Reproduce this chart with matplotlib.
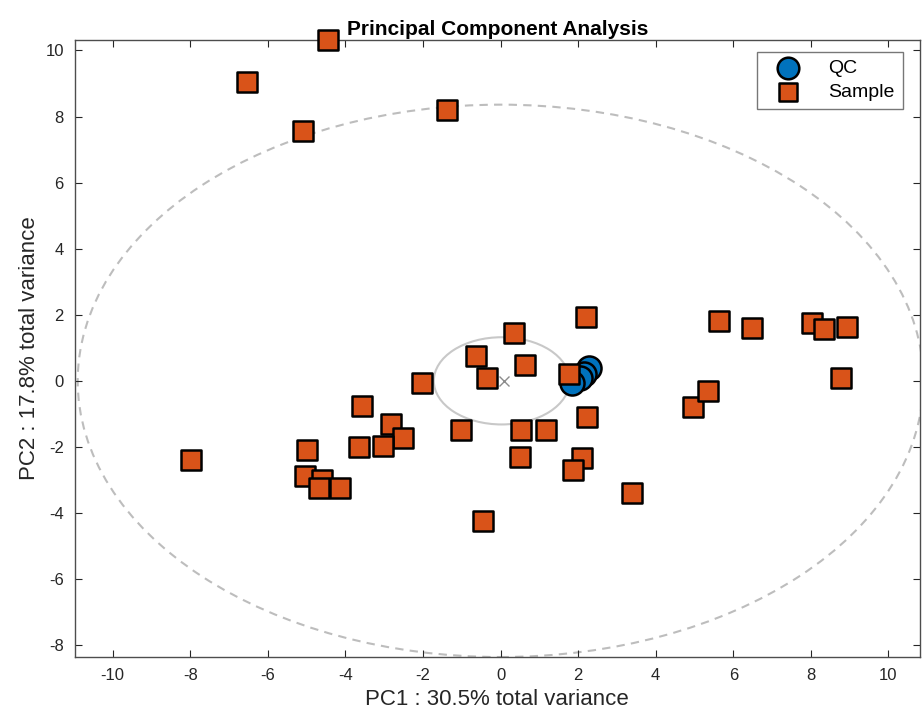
import numpy as np
import matplotlib
matplotlib.use("Agg")
import matplotlib.pyplot as plt
from matplotlib.patches import Ellipse

plt.rcParams['font.family'] = ['Liberation Sans', 'DejaVu Sans']
plt.rcParams['axes.unicode_minus'] = False

# PCA scores
sample_pc1 = [-4.45, -6.54, -5.10, -1.38, 0.36, 2.20, -0.64, 0.62, -0.36, -2.03,
              1.77, -3.56, -2.82, -2.51, -3.03, -3.64, -5.00, -1.03, 0.54, 1.18,
              2.23, 0.51, 2.10, 1.87, 3.38, -0.44, -7.97, -5.05, -4.59, -4.69,
              -4.15, 4.97, 5.36, 5.62, 6.49, 8.03, 8.33, 8.92, 8.77]
sample_pc2 = [10.33, 9.06, 7.55, 8.21, 1.45, 1.94, 0.76, 0.48, 0.09, -0.06,
              0.20, -0.76, -1.30, -1.73, -1.97, -2.00, -2.09, -1.48, -1.48, -1.48,
              -1.09, -2.30, -2.33, -2.70, -3.39, -4.24, -2.39, -2.88, -3.00, -3.24,
              -3.24, -0.79, -0.30, 1.82, 1.61, 1.76, 1.58, 1.64, 0.09]
qc_pc1 = [2.28, 2.15, 2.05, 1.85]
qc_pc2 = [0.39, 0.21, 0.09, -0.06]

# Confidence ellipses (center x, center y, width, height)
outer_ellipse = (0.0, 0.0, 21.8, 16.72)
inner_ellipse = (0.03, 0.0, 3.5, 2.64)

x_ticks = list(range(-10, 11, 2))
y_ticks = list(range(-8, 11, 2))

fig = plt.figure(figsize=(9.22, 7.13), dpi=100)
ax = fig.add_axes([0.0813, 0.0785, 0.916, 0.866])

ax.add_patch(Ellipse(outer_ellipse[:2], outer_ellipse[2], outer_ellipse[3],
                     fill=False, edgecolor='#bdbdbd', linestyle=(0, (4, 3)),
                     linewidth=1.5, zorder=1))
ax.add_patch(Ellipse(inner_ellipse[:2], inner_ellipse[2], inner_ellipse[3],
                     fill=False, edgecolor='#c8c8c8', linewidth=1.5, zorder=1))
ax.plot([inner_ellipse[0] + 0.05], [inner_ellipse[1]], marker='x', color='#8c8c8c',
        markersize=7, markeredgewidth=1.0, linestyle='none', zorder=2)

qc = ax.scatter(qc_pc1, qc_pc2, s=300, marker='o', color='#0072BD',
                edgecolors='black', linewidths=1.8, zorder=3, label='QC',
                clip_on=False)
sm = ax.scatter(sample_pc1, sample_pc2, s=200, marker='s', color='#D95319',
                edgecolors='black', linewidths=1.8, zorder=4, label='Sample',
                clip_on=False)
for coll in (qc, sm):
    coll.set_joinstyle('round')

ax.set_xlim(-10.97, 10.8)
ax.set_ylim(-8.36, 10.33)
ax.set_xticks(x_ticks)
ax.set_yticks(y_ticks)
ax.tick_params(direction='in', top=True, right=True, length=5, width=0.8,
               colors='#262626', labelsize=12, labelcolor='#262626', pad=8)
for sp in ax.spines.values():
    sp.set_color('#4d4d4d')
    sp.set_linewidth(1.0)
    sp.set_zorder(2.5)

ax.set_xlabel('PC1 : 30.5% total variance', fontsize=16, color='#262626', labelpad=4)
ax.set_ylabel('PC2 : 17.8% total variance', fontsize=16, color='#262626', labelpad=4)
ax.set_title('Principal Component Analysis', fontsize=15, fontweight='bold', pad=3)

leg = ax.legend(loc='upper right', fontsize=14, frameon=True, fancybox=False,
                edgecolor='#555555', borderpad=0.4, handletextpad=0.9,
                handlelength=2.4, borderaxespad=0.0, markerscale=0.9,
                labelspacing=0.3, bbox_to_anchor=(0.979, 0.927),
                bbox_transform=fig.transFigure)
leg.get_frame().set_linewidth(1.0)

fig.savefig('out.png', dpi=100)
